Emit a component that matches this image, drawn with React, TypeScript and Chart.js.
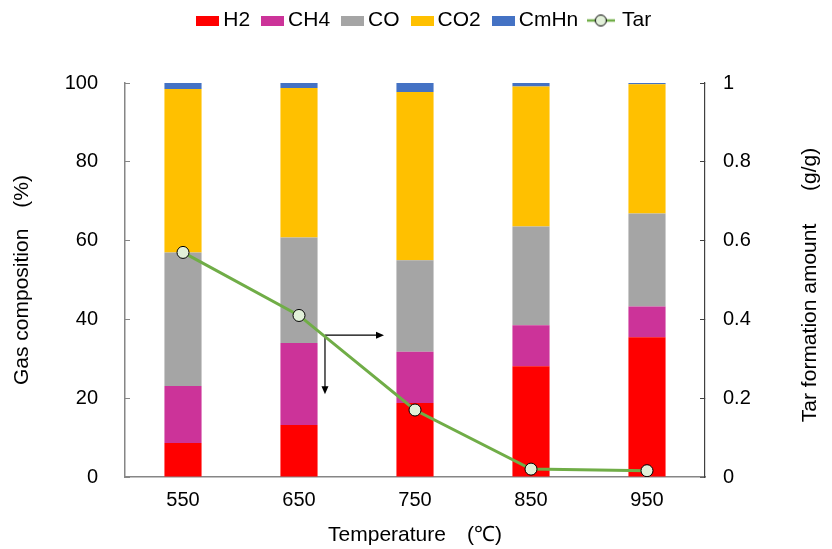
import React, { useEffect, useRef } from "react";
import { Chart, registerables } from "chart.js";

Chart.register(...registerables);

// ---- data ----
const temperatures = ["550", "650", "750", "850", "950"];
const h2 = [8.6, 13.2, 18.8, 28.1, 35.5];
const ch4 = [14.5, 20.8, 13.0, 10.4, 7.8];
const co = [33.9, 26.8, 23.2, 25.1, 23.6];
const co2 = [41.5, 37.9, 42.7, 35.5, 32.8];
const cmhn = [1.5, 1.3, 2.3, 0.9, 0.3];
const tar = [0.57, 0.41, 0.17, 0.02, 0.016];

const leftTickStep = 20;
const rightTickStep = 0.2;

// annotation arrows (category index, % on left axis)
const arrowOrigin = [1.224, 36.0];
const arrowRightEnd = 1.733;
const arrowDownEnd = 21.0;

const FONT = "'Liberation Sans', Arial, sans-serif";
const COLORS = ["#FF0000", "#CC3399", "#A5A5A5", "#FFC000", "#4472C4"];
const TAR_LINE = "#70AD47";
const TAR_FILL = "#E2F0D9";

function rectIcon(color: string) {
  const c = document.createElement("canvas");
  c.width = 23;
  c.height = 10;
  const g = c.getContext("2d")!;
  g.fillStyle = color;
  g.fillRect(0, 0, 23, 10);
  return c;
}

function tarIcon() {
  const c = document.createElement("canvas");
  c.width = 28;
  c.height = 14;
  const g = c.getContext("2d")!;
  g.strokeStyle = TAR_LINE;
  g.lineWidth = 2.5;
  g.beginPath();
  g.moveTo(0, 7);
  g.lineTo(28, 7);
  g.stroke();
  g.beginPath();
  g.arc(14, 7, 5.5, 0, Math.PI * 2);
  g.fillStyle = TAR_FILL;
  g.fill();
  g.strokeStyle = "#000";
  g.lineWidth = 1;
  g.stroke();
  return c;
}

const legendPatch = {
  id: "legendPatch",
  beforeLayout(chart: any) {
    const lg: any = chart.legend;
    if (!lg || lg.__patched) return;
    lg.__patched = true;
    const fit = lg.fit.bind(lg);
    lg.fit = function () {
      fit();
      this.height = 83;
    };
    const draw = lg.draw.bind(lg);
    lg.draw = function () {
      const ctx = this.ctx;
      ctx.save();
      ctx.translate(11, -7.5);
      draw();
      ctx.restore();
    };
  },
};

const extrasPlugin = {
  id: "extras",
  beforeDatasetsDraw(chart: any) {
    const { ctx, scales } = chart;
    const xs = scales.x;
    const ys = scales.y;
    const x0 = xs.getPixelForValue(arrowOrigin[0]);
    const y0 = ys.getPixelForValue(arrowOrigin[1]);
    const x1 = xs.getPixelForValue(arrowRightEnd);
    const y1 = ys.getPixelForValue(arrowDownEnd);
    ctx.save();
    ctx.strokeStyle = "#000";
    ctx.fillStyle = "#000";
    ctx.lineWidth = 1.2;
    ctx.beginPath();
    ctx.moveTo(x0, y0);
    ctx.lineTo(x1 - 7, y0);
    ctx.moveTo(x0, y0);
    ctx.lineTo(x0, y1 - 7);
    ctx.stroke();
    ctx.beginPath();
    ctx.moveTo(x1, y0);
    ctx.lineTo(x1 - 8, y0 - 3.5);
    ctx.lineTo(x1 - 8, y0 + 3.5);
    ctx.closePath();
    ctx.fill();
    ctx.beginPath();
    ctx.moveTo(x0, y1);
    ctx.lineTo(x0 - 3.5, y1 - 8);
    ctx.lineTo(x0 + 3.5, y1 - 8);
    ctx.closePath();
    ctx.fill();
    ctx.restore();
  },
  afterDraw(chart: any) {
    const { ctx, chartArea } = chart;
    ctx.save();
    ctx.translate(810, (chartArea.top + chartArea.bottom) / 2 + 5);
    ctx.rotate(-Math.PI / 2);
    ctx.font = `21px ${FONT}`;
    ctx.fillStyle = "#000";
    ctx.textAlign = "center";
    ctx.textBaseline = "middle";
    ctx.fillText("Tar formation amount\u3000  (g/g)", 0, 0);
    ctx.restore();
  },
};

export default function App() {
  const ref = useRef<HTMLCanvasElement | null>(null);

  useEffect(() => {
    if (!ref.current) return;
    const icons = [...COLORS.map(rectIcon), tarIcon()];
    const names = ["H2", "CH4", "CO", "CO2", "CmHn"];
    const series = [h2, ch4, co, co2, cmhn];
    const tickFont = { family: FONT, size: 20 };
    const titleFont = { family: FONT, size: 21 };

    const chart = new Chart(ref.current, {
      type: "bar",
      data: {
        labels: temperatures,
        datasets: [
          ...series.map((d, i) => ({
            type: "bar" as const,
            label: names[i],
            data: d,
            backgroundColor: COLORS[i],
            borderWidth: 0,
            barPercentage: 0.32,
            categoryPercentage: 1,
            yAxisID: "y",
            order: 1,
          })),
          {
            type: "line" as const,
            label: " Tar",
            data: tar,
            yAxisID: "y2",
            borderColor: TAR_LINE,
            borderWidth: 3,
            pointRadius: 6,
            pointBackgroundColor: TAR_FILL,
            pointBorderColor: "#000",
            pointBorderWidth: 1,
            tension: 0,
            order: 0,
          },
        ],
      } as any,
      options: {
        responsive: false,
        animation: false,
        layout: { padding: 0 },
        plugins: {
          tooltip: { enabled: false },
          legend: {
            display: true,
            position: "top",
            labels: {
              usePointStyle: true,
              pointStyleWidth: 10,
              padding: 17.5,
              color: "#000",
              font: { family: FONT, size: 21 },
              sort: (a: any, b: any) => a.datasetIndex - b.datasetIndex,
              generateLabels: (c: any) => {
                const items = (Chart.defaults.plugins.legend.labels as any).generateLabels(c);
                return items.map((it: any) => ({ ...it, pointStyle: icons[it.datasetIndex] }));
              },
            },
          },
        },
        scales: {
          x: {
            stacked: true,
            offset: true,
            grid: { display: false, drawTicks: false },
            border: { display: true, color: "#868686", width: 1.5 },
            ticks: { color: "#000", font: tickFont, padding: 11 },
            title: {
              display: true,
              text: "Temperature\u3000(\u2103)",
              color: "#000",
              font: titleFont,
              padding: { top: 0, bottom: 1 },
            },
            afterFit: (s: any) => {
              s.height = 72;
            },
          },
          y: {
            stacked: true,
            min: 0,
            max: 100,
            position: "left",
            ticks: { stepSize: leftTickStep, color: "#000", font: tickFont, padding: 32 },
            grid: { drawOnChartArea: false, tickLength: -5, color: "#868686" },
            border: { display: true, color: "#868686", width: 1.5 },
            title: {
              display: true,
              text: "Gas composition\u3000(%)",
              color: "#000",
              font: titleFont,
              padding: { top: 10, bottom: 0 },
            },
            afterFit: (s: any) => {
              s.width = 125;
            },
          },
          y2: {
            min: 0,
            max: 1,
            position: "right",
            ticks: {
              stepSize: rightTickStep,
              color: "#000",
              font: tickFont,
              padding: 23,
              callback: (v: any) => String(Math.round(Number(v) * 10) / 10),
            },
            grid: { drawOnChartArea: false, tickLength: -5, color: "#404040" },
            border: { display: true, color: "#404040", width: 1.2 },
            afterFit: (s: any) => {
              s.width = 127;
            },
          },
        },
      } as any,
      plugins: [legendPatch, extrasPlugin],
    });
    return () => chart.destroy();
  }, []);

  return (
    <div style={{ position: "fixed", left: 0, top: 0, width: 832, height: 549, background: "#fff" }}>
      <canvas ref={ref} width={832} height={549} style={{ width: 832, height: 549, display: "block" }} />
    </div>
  );
}
